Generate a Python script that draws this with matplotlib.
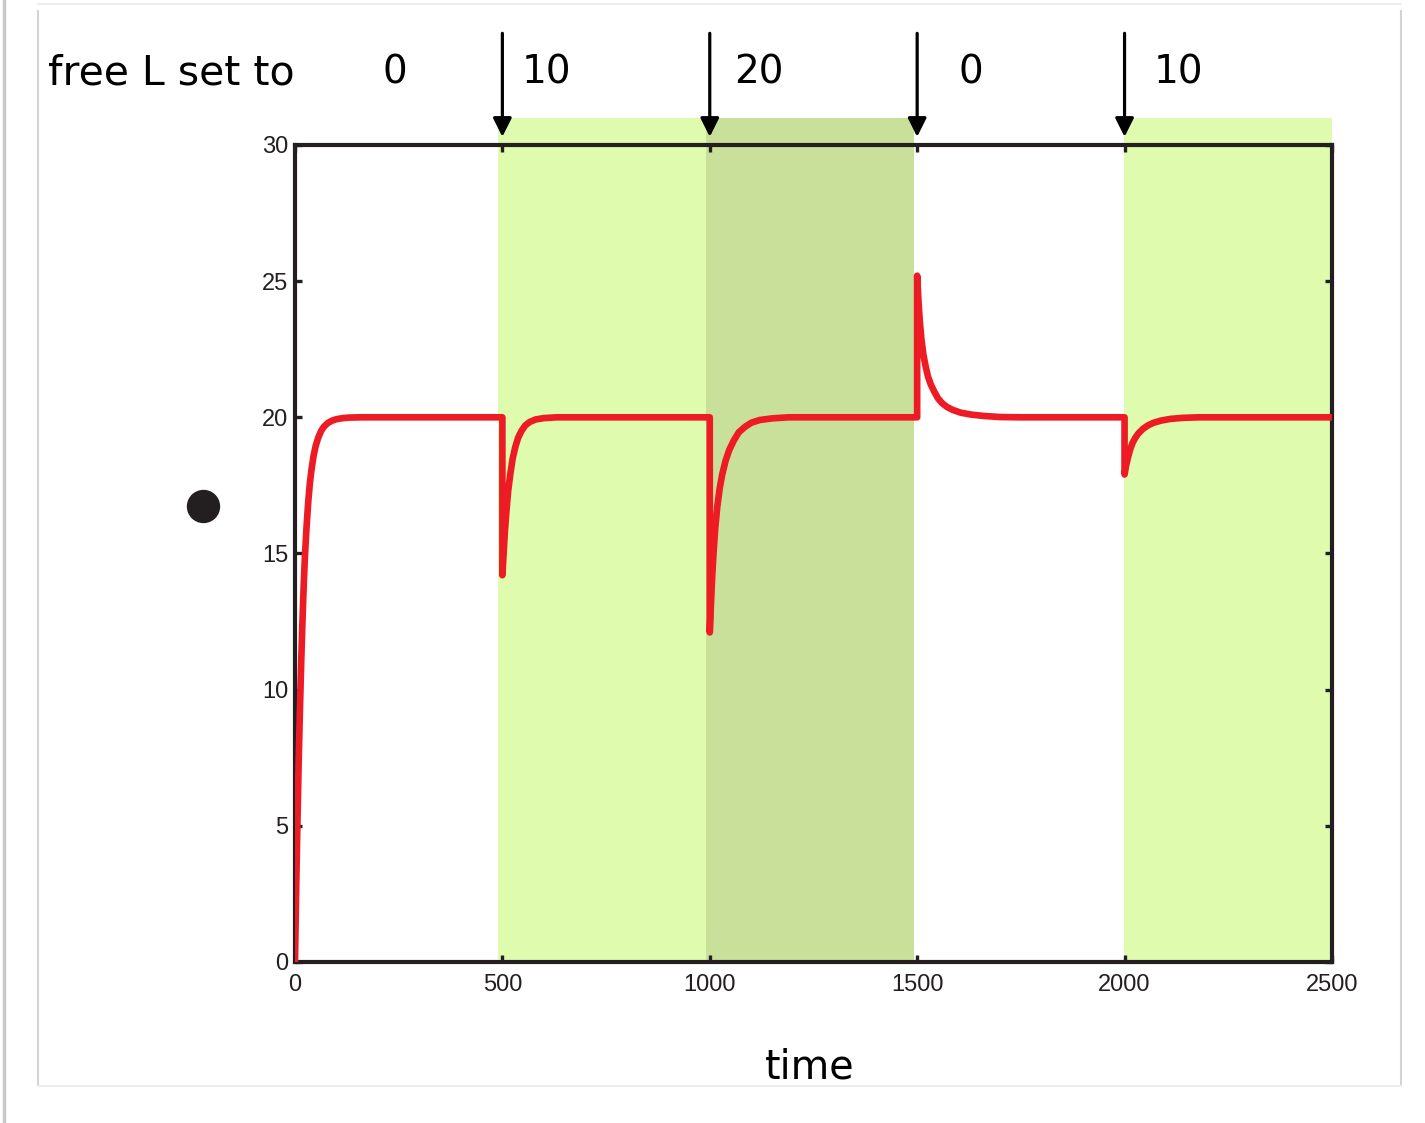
import matplotlib
matplotlib.use("Agg")
import matplotlib.pyplot as plt
from matplotlib.lines import Line2D
from matplotlib.patches import Rectangle

# values (each jump written twice: before / after)
time_pts = [0, 3, 6, 9, 12, 15, 18, 21, 24, 28, 32, 36, 40, 45, 50, 56, 63, 70,
            80, 90, 100, 115, 130, 160, 200,
            500, 500, 503, 506, 510, 514, 519, 525, 531, 538, 546, 555, 566, 580,
            600, 630,
            1000, 1000, 1003, 1006, 1009, 1013, 1018, 1024, 1030, 1038, 1047, 1058,
            1070, 1085, 1100, 1120, 1150, 1190,
            1500, 1500, 1503, 1506, 1510, 1515, 1520, 1526, 1533, 1541, 1550, 1560,
            1572, 1586, 1605, 1630, 1660, 1700, 1750,
            2000, 2000, 2004, 2008, 2013, 2019, 2026, 2034, 2044, 2056, 2070, 2088,
            2110, 2140, 2180, 2500]
values = [0, 2.8, 5.2, 7.4, 9.3, 11.0, 12.5, 13.8, 14.9, 16.0, 16.9, 17.6, 18.1,
          18.6, 18.95, 19.25, 19.5, 19.66, 19.8, 19.88, 19.93, 19.97, 19.99, 20, 20,
          20, 14.2, 15.0, 15.8, 16.6, 17.3, 17.9, 18.5, 18.9, 19.25, 19.5, 19.7,
          19.83, 19.92, 19.97, 20,
          20, 12.1, 13.2, 14.2, 15.0, 15.9, 16.7, 17.4, 17.9, 18.4, 18.8, 19.15,
          19.45, 19.65, 19.8, 19.9, 19.96, 20,
          20, 25.2, 24.3, 23.6, 22.9, 22.3, 21.9, 21.5, 21.2, 20.95, 20.7, 20.52,
          20.38, 20.27, 20.17, 20.1, 20.05, 20.01, 20,
          20, 17.9, 18.25, 18.5, 18.8, 19.05, 19.25, 19.42, 19.57, 19.7, 19.8,
          19.88, 19.94, 19.98, 20, 20]

# shaded periods (start, end, colour)
shade_start = [490, 990, 1998]
shade_end = [990, 1492, 2500]
shade_col = ['#dffcae', '#c9e09a', '#dffcae']
shade_top = 31

# free L switches
switch_t = [500, 1000, 1500, 2000]
level_labels = ['0', '10', '20', '0', '10']
label_t = [241, 607, 1119, 1630, 2129]

fig = plt.figure(figsize=(14.25, 11.23), dpi=100)
ax = fig.add_axes([0.207, 0.1434, 0.7277, 0.7275])

for s, e, c in zip(shade_start, shade_end, shade_col):
    ax.add_patch(Rectangle((s, 0), e - s, shade_top, facecolor=c,
                           edgecolor='none', clip_on=False, zorder=0))

ax.plot(time_pts, values, color='#ed1c24', lw=4.8,
        solid_joinstyle='round', solid_capstyle='round', zorder=3)

ax.set_xlim(0, 2500)
ax.set_ylim(0, 30)
ax.set_xticks(range(0, 2501, 500))
ax.set_yticks(range(0, 31, 5))
ax.tick_params(direction='in', top=True, right=True, length=5, width=2.4,
               labelsize=17, labelcolor='#231f20', color='#231f20')
ax.tick_params(axis='x', pad=9)
ax.tick_params(axis='y', pad=5)
for lab in ax.get_xticklabels() + ax.get_yticklabels():
    lab.set_family('Liberation Sans')
for sp in ax.spines.values():
    sp.set_linewidth(3)
    sp.set_color('#231f20')
ax.set_facecolor('none')

for t in switch_t:
    ax.annotate('', xy=(t, 30.3), xytext=(t, 34.1), annotation_clip=False,
                arrowprops=dict(arrowstyle='-|>', lw=2.3, color='black',
                                mutation_scale=28, shrinkA=0, shrinkB=0))

for t, lab in zip(label_t, level_labels):
    ax.text(t, 32.65, lab, fontsize=28, ha='center', va='center', clip_on=False)

fig.text(0.0337, 0.9345, 'free L set to', fontsize=29.5, ha='left', va='center')
fig.text(0.568, 0.049, 'time', fontsize=28.5, ha='center', va='center')

# black dot left of the axis
fig.add_artist(Line2D([0.1425], [0.5494], marker='o', markersize=23,
                      color='#231f20', transform=fig.transFigure))

# panel frame
fig.add_artist(Line2D([0.0027, 0.0027], [0, 1], color='#c8c8c8', lw=2.5,
                      transform=fig.transFigure))
fig.add_artist(Line2D([0.0267, 0.0267], [0.033, 0.99], color='#d4d4d4', lw=1.5,
                      transform=fig.transFigure))
fig.add_artist(Line2D([0.983, 0.983], [0.033, 0.99], color='#d4d4d4', lw=1.5,
                      transform=fig.transFigure))
fig.add_artist(Line2D([0.0267, 0.983], [0.033, 0.033], color='#eeeeee', lw=1.5,
                      transform=fig.transFigure))
fig.add_artist(Line2D([0.0267, 0.983], [0.996, 0.996], color='#eeeeee', lw=1.5,
                      transform=fig.transFigure))

fig.savefig('out.png', dpi=100)
